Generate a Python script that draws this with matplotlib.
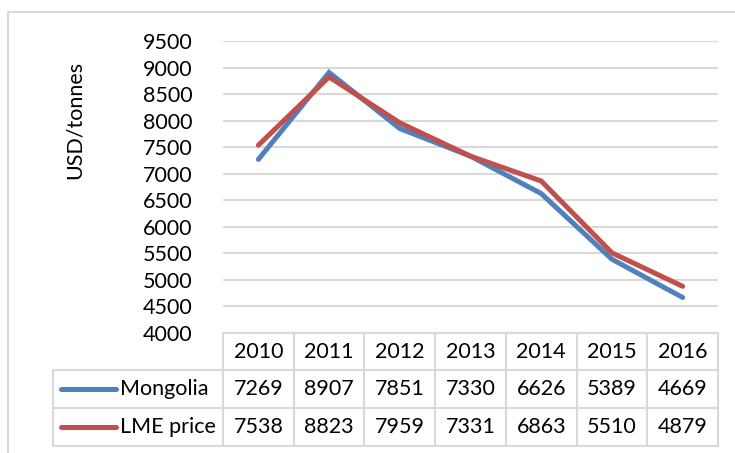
import matplotlib.pyplot as plt
import numpy as np

# data
years = ['2010', '2011', '2012', '2013', '2014', '2015', '2016']
mongolia = [7269, 8907, 7851, 7330, 6626, 5389, 4669]
lme = [7538, 8823, 7959, 7331, 6863, 5510, 4879]
series_names = ['Mongolia', 'LME price']
yticks = np.arange(4000, 9501, 500)

blue = '#4F81BD'
red = '#C0504D'
grid = '#D9D9D9'
plt.rcParams['font.family'] = ['Lato', 'DejaVu Sans']

W, H = 735, 453
fig = plt.figure(figsize=(W / 100, H / 100), dpi=100)

# plot area in pixels
x0, x1 = 223, 718
ytop, ybot = 41, 333
ax = fig.add_axes([x0 / W, 1 - ybot / H, (x1 - x0) / W, (ybot - ytop) / H])
n = len(years)
xs = np.arange(n)
ax.set_xlim(-0.5, n - 0.5)
ax.set_ylim(4000, 9500)
ax.set_yticks(yticks)
ax.set_yticklabels([str(v) for v in yticks], fontsize=15.5)
ax.tick_params(axis='y', length=0, pad=22)
ax.set_xticks([])
for s in ax.spines.values():
    s.set_visible(False)
ax.grid(axis='y', color=grid, linewidth=1.5)
ax.set_axisbelow(True)
ax.plot(xs, mongolia, color=blue, linewidth=3.6, solid_capstyle='round', solid_joinstyle='miter')
ax.plot(xs, lme, color=red, linewidth=3.6, solid_capstyle='round', solid_joinstyle='miter')

# overlay in pixel coordinates for the frame and data table
ov = fig.add_axes([0, 0, 1, 1], zorder=-1)
ov.set_xlim(0, W)
ov.set_ylim(H, 0)
ov.axis('off')
ov.patch.set_alpha(0)

# outer frame
ov.plot([8, 8, W], [H, 12, 12], color=grid, linewidth=1.5)

fig.text(75 / W, 1 - 120 / H, 'USD/tonnes', rotation=90, ha='center', va='center', fontsize=15.5)

top_axes = fig.add_axes([0, 0, 1, 1], zorder=5)
top_axes.set_xlim(0, W)
top_axes.set_ylim(H, 0)
top_axes.axis('off')
top_axes.patch.set_alpha(0)

rows = [333, 370, 408, 446]
colw = (x1 - x0) / n
leg_left = 53
# horizontal lines
top_axes.plot([x0, x1], [rows[0], rows[0]], color=grid, linewidth=1.5)
for r in rows[1:]:
    top_axes.plot([leg_left, x1], [r, r], color=grid, linewidth=1.5)
# vertical lines
top_axes.plot([leg_left, leg_left], [rows[1], rows[3]], color=grid, linewidth=1.5)
for i in range(n + 1):
    xv = x0 + i * colw
    top_axes.plot([xv, xv], [rows[0], rows[3]], color=grid, linewidth=1.5)

for i, yr in enumerate(years):
    cx = x0 + (i + 0.5) * colw
    top_axes.text(cx, (rows[0] + rows[1]) / 2, yr, ha='center', va='center', fontsize=15.5)
    top_axes.text(cx, (rows[1] + rows[2]) / 2, str(mongolia[i]), ha='center', va='center', fontsize=15.5)
    top_axes.text(cx, (rows[2] + rows[3]) / 2, str(lme[i]), ha='center', va='center', fontsize=15.5)

for j, (name, col) in enumerate(zip(series_names, [blue, red])):
    cy = (rows[j + 1] + rows[j + 2]) / 2
    top_axes.plot([61, 116], [cy, cy], color=col, linewidth=3.6, solid_capstyle='round')
    top_axes.text(120, cy, name, ha='left', va='center', fontsize=15.5)

fig.savefig('out.png', dpi=100)
